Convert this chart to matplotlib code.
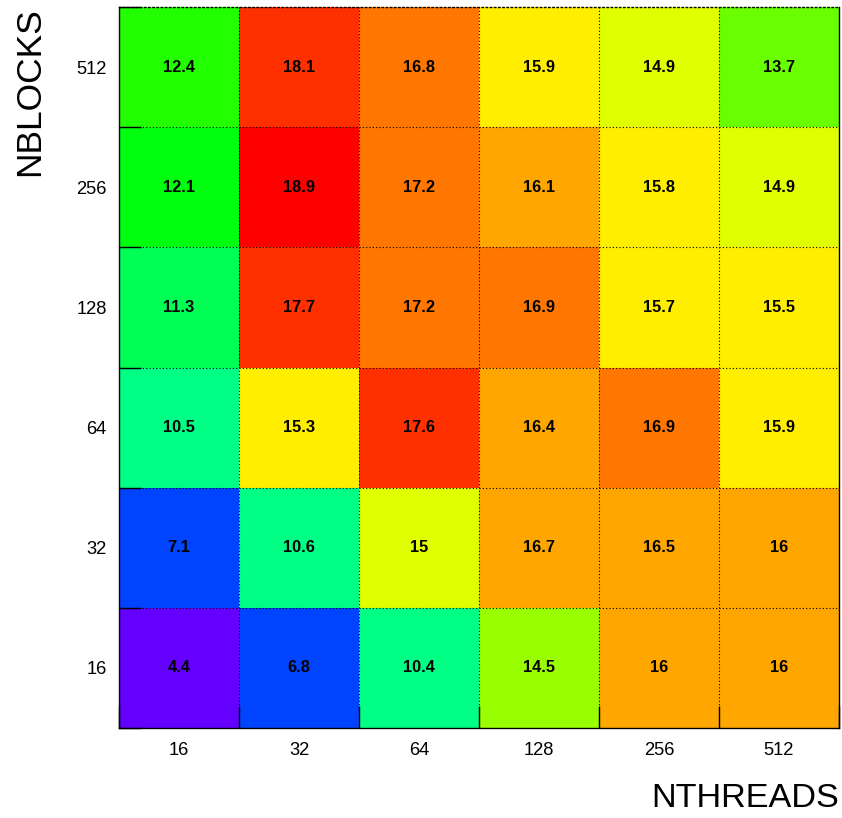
import colorsys
import numpy as np
import matplotlib
matplotlib.use("Agg")
import matplotlib.pyplot as plt
from matplotlib.colors import ListedColormap, Normalize

nthreads = ["16", "32", "64", "128", "256", "512"]
nblocks = ["16", "32", "64", "128", "256", "512"]
# rows = nblocks (bottom to top), columns = nthreads
values = np.array([
    [4.4, 6.8, 10.4, 14.5, 16.0, 16.0],
    [7.1, 10.6, 15.0, 16.7, 16.5, 16.0],
    [10.5, 15.3, 17.6, 16.4, 16.9, 15.9],
    [11.3, 17.7, 17.2, 16.9, 15.7, 15.5],
    [12.1, 18.9, 17.2, 16.1, 15.8, 14.9],
    [12.4, 18.1, 16.8, 15.9, 14.9, 13.7],
])
labels = [["16" if v == 16 else "15" if v == 15 else f"{v:.1f}" for v in row] for row in values]

# ROOT "pretty" palette: 50 colours violet -> red, sampled by 20 contour levels
pretty = []
for i in range(49):
    hue = 280 - (i + 1) * 280 / 50
    pretty.append(colorsys.hls_to_rgb(hue / 360, 0.5, 1.0))
pretty.append((1.0, 0.0, 0.0))
ncont = 20
levels = [pretty[int((c + 0.99) * 50 / ncont)] for c in range(ncont)]
cmap = ListedColormap(levels)
norm = Normalize(values.min(), values.max())

plt.rcParams['font.family'] = ['Liberation Sans', 'DejaVu Sans']

fig = plt.figure(figsize=(8.42, 8.18), dpi=100)
ax = fig.add_axes([119 / 842, 90 / 818, 720 / 842, 721 / 818])

nx, ny = len(nthreads), len(nblocks)
ax.pcolormesh(np.arange(nx + 1), np.arange(ny + 1), values, cmap=cmap, norm=norm)
for j in range(ny):
    for i in range(nx):
        ax.text(i + 0.5, j + 0.5, labels[j][i], ha='center', va='center',
                fontsize=11.8, fontweight='bold', color='black')

ax.set_xlim(0, nx)
ax.set_ylim(0, ny)

# grid at bin edges
for k in range(1, nx):
    ax.axvline(k, color='black', ls=(0, (1, 2)), lw=0.8)
for k in range(1, ny):
    ax.axhline(k, color='black', ls=(0, (1, 2)), lw=0.8)

ax.set_xticks(np.arange(nx + 1))
ax.set_yticks(np.arange(ny + 1))
ax.set_xticklabels([])
ax.set_yticklabels([])
ax.tick_params(which='major', direction='in', length=16, width=1, color='black')
ax.set_xticks(np.arange(nx) + 0.5, minor=True)
ax.set_yticks(np.arange(ny) + 0.5, minor=True)
ax.set_xticklabels(nthreads, minor=True, fontsize=13.2)
ax.set_yticklabels(nblocks, minor=True, fontsize=13.2)
ax.tick_params(axis='x', which='minor', length=0, pad=10)
ax.tick_params(axis='y', which='minor', length=0, pad=9)

for s in ax.spines.values():
    s.set_linewidth(1)
ax.spines['top'].set_linestyle((0, (1, 2)))

fig.text(839 / 842, 4 / 818, "NTHREADS", ha='right', va='bottom', fontsize=24.7)
fig.text(13 / 842, 1 - 7 / 818, "NBLOCKS", ha='left', va='top', rotation=90, fontsize=25.5)

fig.savefig("out.png", dpi=100, facecolor='white')
